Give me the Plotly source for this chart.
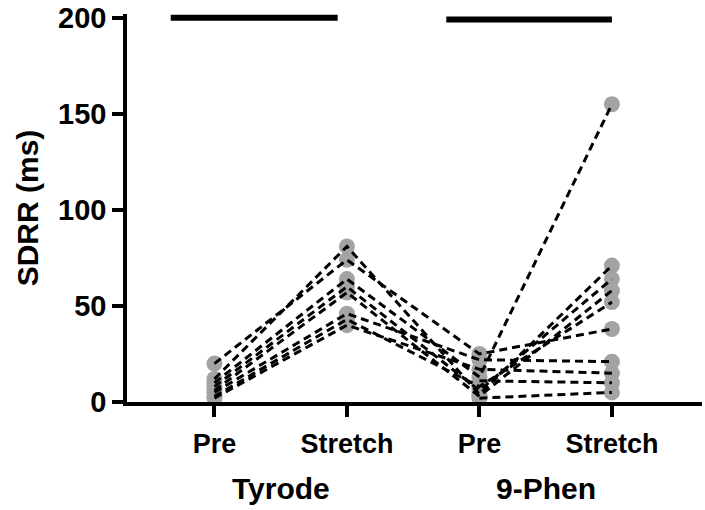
import plotly.graph_objects as go

# ---- data ----
categories = ["Pre", "Stretch", "Pre", "Stretch"]
groups = ["Tyrode", "9-Phen"]
group_centers = [0.5, 2.5]

tyrode_pre = [20, 12, 10, 8, 6, 5, 3, 2, None, None]
tyrode_stretch = [74, 81, 64, 60, 57, 46, 43, 40, None, None]
phen_pre = [25, 4, 13, 6, 3, 22, 8, 17, 11, 2]
phen_stretch = [38, 71, 155, 64, 58, 21, 52, 15, 10, 5]

# summary bars at top (x-start, x-end, y)
bar_x0 = [-0.33, 1.75]
bar_x1 = [0.93, 3.0]
bar_y = [200, 199.2]

FONT = "Liberation Sans, Arial, sans-serif"
GREY = "#a3a3a6"

columns = [tyrode_pre, tyrode_stretch, phen_pre, phen_stretch]
xpos = list(range(len(categories)))

fig = go.Figure()

# markers first (lines drawn on top)
for xi, col in zip(xpos, columns):
    ys = [v for v in col if v is not None]
    fig.add_trace(go.Scatter(
        x=[xi] * len(ys), y=ys, mode="markers",
        marker=dict(color=GREY, size=16, line=dict(width=0)),
        cliponaxis=False, showlegend=False, hoverinfo="skip"))

# dashed subject lines
for i in range(len(phen_pre)):
    ys = [tyrode_pre[i], tyrode_stretch[i], phen_pre[i], phen_stretch[i]]
    fig.add_trace(go.Scatter(
        x=xpos, y=ys, mode="lines", connectgaps=False,
        line=dict(color="black", width=3, dash="8px,5px"),
        cliponaxis=False, showlegend=False, hoverinfo="skip"))

# top bars
for x0, x1, y in zip(bar_x0, bar_x1, bar_y):
    fig.add_trace(go.Scatter(
        x=[x0, x1], y=[y, y], mode="lines",
        line=dict(color="black", width=6),
        cliponaxis=False, showlegend=False, hoverinfo="skip"))

# group labels
for g, c in zip(groups, group_centers):
    fig.add_annotation(
        x=c, y=0, xref="x", yref="paper", yanchor="top",
        yshift=-68, text=g, showarrow=False,
        font=dict(family=FONT, size=30, color="black", weight="bold"))

fig.update_layout(
    width=705, height=510,
    margin=dict(l=127, r=3, t=14, b=108),
    plot_bgcolor="white", paper_bgcolor="white",
    font=dict(family=FONT, color="black"),
    xaxis=dict(
        range=[-0.66, 3.68], tickmode="array", tickvals=xpos,
        ticktext=categories, showgrid=False, zeroline=False,
        showline=True, linecolor="black", linewidth=3.5,
        ticks="outside", ticklen=11, tickwidth=3.5, tickcolor="black",
        tickfont=dict(family=FONT, size=27, color="black", weight="bold"),
        ticklabelstandoff=4),
    yaxis=dict(
        range=[0, 202], tickvals=[0, 50, 100, 150, 200],
        showgrid=False, zeroline=False,
        showline=True, linecolor="black", linewidth=3.5,
        ticks="outside", ticklen=11, tickwidth=3.5, tickcolor="black",
        tickfont=dict(family=FONT, size=29, color="black", weight="bold"),
        title=dict(text="SDRR (ms)", standoff=12,
                   font=dict(family=FONT, size=30, color="black", weight="bold"))),
)

fig.write_html("out.html")
